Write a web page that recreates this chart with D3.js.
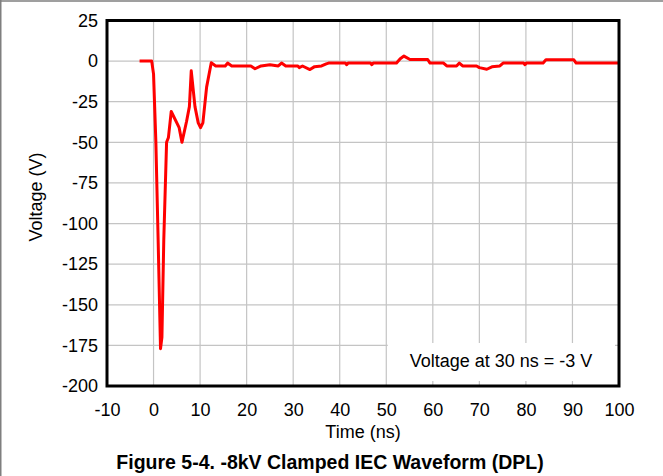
<!DOCTYPE html>
<html>
<head>
<meta charset="utf-8">
<script src="https://cdn.jsdelivr.net/npm/d3@7"></script>
<style>
  html, body { margin: 0; padding: 0; background: #fff; }
  svg { display: block; }
  text { font-family: "Liberation Sans", Arial, sans-serif; fill: #000; }
</style>
</head>
<body>
<svg id="chart" width="663" height="476"></svg>
<script>
// ---- data ----
const timeNs = [
  -3, -0.4, 0, 0.5, 1.0, 1.5, 1.8, 2.2, 2.8, 3.2, 3.8, 5.5, 6.1, 7.1, 7.7, 8.1,
  8.9, 9.6, 10.1, 10.6, 11.4, 12.4, 12.9, 13.3, 15.4, 15.9, 16.8, 20.9, 21.8,
  23.1, 25.0, 26.8, 27.5, 28.4, 31.0, 31.3, 32.0, 33.6, 34.6, 36.1, 37.1, 37.6,
  41.2, 41.5, 41.8, 46.6, 46.9, 47.2, 52.2, 53.0, 53.8, 55.1, 58.9, 59.4, 62.3,
  63.0, 65.1, 65.7, 66.4, 69.4, 70.0, 71.6, 72.7, 74.4, 75.1, 79.5, 79.8, 80.1,
  83.7, 84.3, 90.3, 90.8, 100
];
const voltageV = [
  0, 0, -8, -50, -112, -177, -170, -110, -50, -47, -31, -41, -50, -37, -28, -6,
  -28, -38, -41, -38, -16, -1, -2, -3, -3, -1.2, -3, -3, -4.7,
  -3, -2.2, -3, -1.2, -3, -3, -4, -3, -5.2, -3.4, -3, -1.7, -1.2,
  -1.2, -2.2, -1.2, -1.2, -2.2, -1.2, -1.2, 1.5, 3.1, 1.0, 1.0, -1.2, -1.2,
  -3, -3, -1.2, -3, -3, -4, -5, -3.5, -3, -1.2, -1.2, -2.2, -1.2,
  -1.2, 0.8, 0.8, -1.2, -1.2
];
const xTicks = [-10, 0, 10, 20, 30, 40, 50, 60, 70, 80, 90, 100];
const yTicks = [25, 0, -25, -50, -75, -100, -125, -150, -175, -200];
const xTitle = "Time (ns)";
const yTitle = "Voltage (V)";
const noteText = "Voltage at 30 ns = -3 V";
const caption = "Figure 5-4. -8kV Clamped IEC Waveform (DPL)";

// ---- layout ----
const W = 663, H = 476;
const plot = { left: 107, right: 619, top: 20.5, bottom: 386 };

const svg = d3.select("#chart");

// outer frame (top + left grey lines)
svg.append("line").attr("x1", 0).attr("x2", W).attr("y1", 1).attr("y2", 1)
  .attr("stroke", "#7f7f7f").attr("stroke-width", 1.5);
svg.append("line").attr("x1", 0.75).attr("x2", 0.75).attr("y1", 0).attr("y2", H)
  .attr("stroke", "#7f7f7f").attr("stroke-width", 1.5);

const x = d3.scaleLinear().domain([-10, 100]).range([plot.left, plot.right]);
const y = d3.scaleLinear().domain([-200, 25]).range([plot.bottom, plot.top]);

// gridlines
const grid = svg.append("g");
grid.selectAll("line.v").data(xTicks).join("line")
  .attr("x1", d => x(d)).attr("x2", d => x(d))
  .attr("y1", plot.top).attr("y2", plot.bottom)
  .attr("stroke", "#c4c4c4").attr("stroke-width", 1.2);
grid.selectAll("line.h").data(yTicks).join("line")
  .attr("x1", plot.left).attr("x2", plot.right)
  .attr("y1", d => y(d)).attr("y2", d => y(d))
  .attr("stroke", "#c4c4c4").attr("stroke-width", 1.2);

// data line
const line = d3.line()
  .x((d, i) => x(timeNs[i]))
  .y(d => y(d));
svg.append("path")
  .datum(voltageV)
  .attr("d", line)
  .attr("fill", "none")
  .attr("stroke", "#ff0000")
  .attr("stroke-width", 3)
  .attr("stroke-linejoin", "round");

// annotation box (white, no border)
svg.append("rect")
  .attr("x", x(50) + 1.5).attr("y", 343)
  .attr("width", x(100) - 4 - (x(50) + 1.5)).attr("height", 38)
  .attr("fill", "#fff");
svg.append("text")
  .attr("x", 501).attr("y", 366.5)
  .attr("text-anchor", "middle")
  .attr("font-size", 18)
  .text(noteText);

// plot border
svg.append("rect")
  .attr("x", plot.left).attr("y", plot.top)
  .attr("width", plot.right - plot.left).attr("height", plot.bottom - plot.top)
  .attr("fill", "none").attr("stroke", "#000").attr("stroke-width", 3);

// axes (tick labels via d3 axes), plain hyphen minus as in the reference
const fmt = d => String(d);
const xAxis = svg.append("g")
  .attr("transform", `translate(0,${plot.bottom})`)
  .call(d3.axisBottom(x).tickValues(xTicks).tickSize(0).tickPadding(17).tickFormat(fmt));
const yAxis = svg.append("g")
  .attr("transform", `translate(${plot.left},0)`)
  .call(d3.axisLeft(y).tickValues(yTicks).tickSize(0).tickPadding(9).tickFormat(fmt));
[xAxis, yAxis].forEach(a => {
  a.select(".domain").remove();
  a.selectAll("text")
    .attr("font-size", 18)
    .attr("font-family", "'Liberation Sans', Arial, sans-serif")
    .attr("fill", "#000");
});

// axis titles
svg.append("text")
  .attr("x", (plot.left + plot.right) / 2).attr("y", 438)
  .attr("text-anchor", "middle").attr("font-size", 18)
  .text(xTitle);
svg.append("text")
  .attr("transform", "translate(42,197) rotate(-90)")
  .attr("text-anchor", "middle").attr("font-size", 18)
  .text(yTitle);

// caption
svg.append("text")
  .attr("x", 330).attr("y", 469)
  .attr("text-anchor", "middle").attr("font-size", 19.5)
  .attr("font-weight", "bold")
  .text(caption);
</script>
</body>
</html>
